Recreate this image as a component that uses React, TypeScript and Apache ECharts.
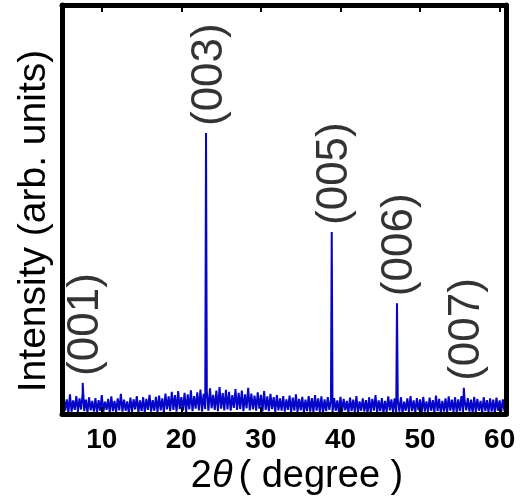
import React, { useEffect, useRef } from "react";
import * as echarts from "echarts";

// 2θ grid of the background trace (degrees)
const noiseStart = 5.0;
const noiseStep = 0.2;
// background intensity (arb. units), one value per grid step
const noiseValues: number[] = [
  4, 42, 8, 36, 2, 48, 6, 33, 10, 44,
  5, 38, 11, 52, 7, 35, 3, 41, 9, 32,
  6, 39, 2, 34, 8, 46, 5, 30, 10, 37,
  3, 43, 7, 32, 4, 38, 9, 49, 6, 35,
  8, 31, 2, 40, 5, 36, 11, 44, 4, 33,
  7, 41, 3, 37, 10, 47, 6, 34, 8, 42,
  5, 45, 9, 38, 4, 50, 11, 43, 7, 54,
  10, 46, 6, 56, 12, 41, 8, 52, 5, 48,
  11, 58, 7, 44, 13, 53, 9, 60, 6, 49,
  12, 55, 8, 63, 14, 47, 10, 57, 7, 66,
  13, 51, 9, 59, 11, 54, 8, 46, 15, 61,
  10, 52, 12, 57, 7, 48, 14, 64, 9, 50,
  11, 45, 8, 53, 13, 47, 6, 56, 10, 43,
  7, 49, 12, 41, 5, 46, 9, 38, 8, 44,
  6, 36, 10, 45, 4, 40, 8, 48, 5, 37,
  9, 42, 3, 35, 7, 44, 6, 39, 4, 46,
  8, 38, 5, 43, 2, 36, 7, 41, 10, 34,
  4, 39, 8, 33, 3, 42, 6, 37, 9, 32,
  2, 40, 7, 35, 5, 44, 3, 31, 8, 38,
  6, 34, 2, 41, 4, 37, 8, 46, 3, 33,
  7, 39, 2, 32, 5, 43, 9, 36, 4, 38,
  3, 35, 6, 41, 2, 30, 8, 38, 5, 44,
  7, 33, 4, 39, 9, 36, 2, 42, 6, 31,
  5, 40, 8, 34, 3, 45, 7, 37, 4, 32,
  6, 38, 2, 43, 8, 35, 5, 41, 3, 36,
  7, 44, 4, 33, 9, 39, 6, 35, 2, 42,
  5, 37, 8, 32, 3, 41, 7, 34, 4, 38,
  6, 35, 2, 40, 8, 33, 5, 36, 7, 30,
];

// Bragg peaks
const peakPositions = [7.6, 23.1, 38.9, 47.1, 55.5];
const peakHeights = [76, 687, 445, 271, 64];
const peakLabels = ["(001)", "(003)", "(005)", "(006)", "(007)"];

const xTicks = [10, 20, 30, 40, 50, 60];

const FONT = "'Liberation Sans', Arial, Helvetica, sans-serif";

const frameLine = { show: true, onZero: false, lineStyle: { color: "#000", width: 5 } };

export default function App() {
  const ref = useRef<HTMLDivElement>(null);

  useEffect(() => {
    if (!ref.current) return;
    const chart = echarts.init(ref.current, undefined, { renderer: "svg" });

    const pts: number[][] = noiseValues.map((v, i) => [
      +(noiseStart + i * noiseStep).toFixed(2),
      v,
    ]);
    peakPositions.forEach((p, i) => pts.push([p, peakHeights[i]]));
    pts.sort((a, b) => a[0] - b[0]);

    const labelPts = peakPositions.map((p, i) => ({
      value: [p, peakHeights[i]],
      name: peakLabels[i],
    }));

    const tick = {
      show: true,
      inside: true,
      length: 7,
      lineStyle: { color: "#000", width: 2 },
      customValues: xTicks,
    };

    chart.setOption({
      animation: false,
      grid: { left: 62, right: 24, top: 5, bottom: 82 },
      xAxis: [
        {
          type: "value",
          min: 5,
          max: 60.8,
          position: "bottom",
          splitLine: { show: false },
          axisLine: frameLine,
          axisTick: tick,
          axisLabel: {
            show: true,
            customValues: xTicks,
            fontFamily: FONT,
            fontWeight: "bold",
            fontSize: 28,
            color: "#000",
            margin: 10,
          },
          z: 5,
        },
        {
          type: "value",
          min: 5,
          max: 60.8,
          position: "top",
          splitLine: { show: false },
          axisLine: frameLine,
          axisTick: tick,
          axisLabel: { show: false },
          z: 5,
        },
      ],
      yAxis: [
        {
          type: "value",
          min: 0,
          max: 1000,
          position: "left",
          splitLine: { show: false },
          axisLine: frameLine,
          axisTick: { show: false },
          axisLabel: { show: false },
          z: 5,
        },
        {
          type: "value",
          min: 0,
          max: 1000,
          position: "right",
          splitLine: { show: false },
          axisLine: frameLine,
          axisTick: { show: false },
          axisLabel: { show: false },
          z: 5,
        },
      ],
      series: [
        {
          type: "line",
          data: pts,
          showSymbol: false,
          symbol: "none",
          lineStyle: { color: "#0606c8", width: 2 },
          itemStyle: { color: "#0606c8" },
          z: 2,
        },
        {
          type: "scatter",
          data: labelPts,
          symbolSize: 0,
          itemStyle: { color: "transparent" },
          label: {
            show: true,
            formatter: (p: any) => p.name,
            position: "top",
            distance: 7,
            rotate: 90,
            align: "left",
            verticalAlign: "middle",
            fontFamily: FONT,
            fontSize: 44,
            color: "#000",
          },
          z: 3,
        },
      ],
      graphic: [
        {
          type: "text",
          x: 31,
          y: 221,
          rotation: Math.PI / 2,
          style: {
            text: "Intensity (arb. units)",
            fontFamily: FONT,
            fontSize: 39,
            fill: "#000",
            align: "center",
            verticalAlign: "middle",
          },
        },
        {
          type: "text",
          x: 297,
          y: 474,
          style: {
            text: "{n|2}{i|θ}{n|( degree )}",
            align: "center",
            verticalAlign: "middle",
            rich: {
              n: { fontFamily: FONT, fontSize: 38, fill: "#000" },
              i: {
                fontFamily: FONT,
                fontSize: 38,
                fontStyle: "italic",
                fill: "#000",
                padding: [0, 6, 0, 0],
              },
            },
          },
        },
      ],
    });

    return () => chart.dispose();
  }, []);

  return (
    <div
      ref={ref}
      style={{ position: "fixed", left: 0, top: 0, width: 530, height: 496 }}
    />
  );
}
